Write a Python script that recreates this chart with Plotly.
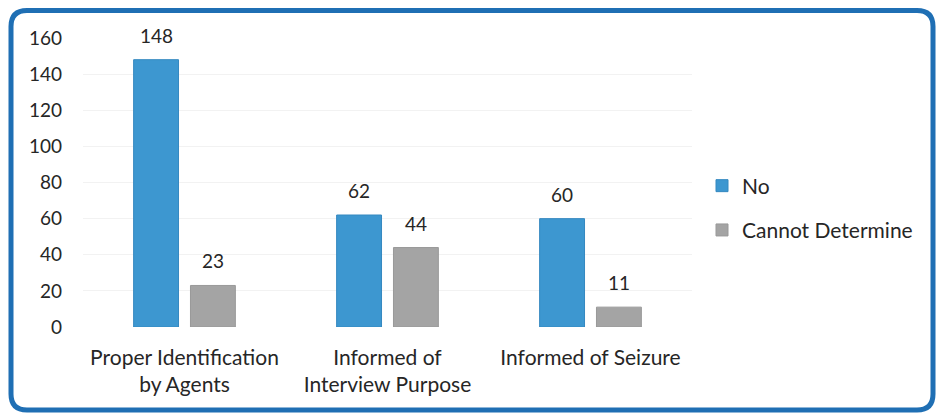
import plotly.graph_objects as go

categories = ["Proper Identification<br>by Agents", "Informed of<br>Interview Purpose", "Informed of Seizure"]
no_values = [148, 62, 60]
cannot_values = [23, 44, 11]
series_names = ["No", "Cannot Determine"]
y_ticks = [0, 20, 40, 60, 80, 100, 120, 140, 160]

W, H = 936, 413
ML, MR, MT, MB = 83, 244, 38, 86
PW, PH = W - ML - MR, H - MT - MB

def px2x(px):
    return (px - ML) / PW

def px2y(py):
    return (H - MB - py) / PH

FONT = "Lato, 'Open Sans', sans-serif"
TXT = "#262626"
BARGAP, GROUPGAP = 0.44, 0.21
slot_px = PW / len(categories) * (1 - BARGAP) / 2

fig = go.Figure()
fig.add_trace(go.Bar(
    x=categories, y=no_values, name=series_names[0], legendgroup="a",
    marker=dict(color="#3d97d0", line=dict(color="#3589c0", width=1)),
))
fig.add_trace(go.Bar(
    x=categories, y=cannot_values, name=series_names[1], legendgroup="b",
    marker=dict(color="#a4a4a4", line=dict(color="#999999", width=1)),
))

annotations = []
for vals, sh in ((no_values, -slot_px / 2), (cannot_values, slot_px / 2)):
    for c, v in zip(categories, vals):
        annotations.append(dict(
            x=c, y=v, xref="x", yref="y", text=str(v), showarrow=False,
            yanchor="bottom", yshift=11, xshift=sh,
            font=dict(size=19, color=TXT, family=FONT),
        ))

# rounded border
l, t, r, b, rad = 11, 10.5, 933, 410, 16
path = (
    f"M {px2x(l+rad)},{px2y(t)} L {px2x(r-rad)},{px2y(t)} "
    f"Q {px2x(r)},{px2y(t)} {px2x(r)},{px2y(t+rad)} "
    f"L {px2x(r)},{px2y(b-rad)} Q {px2x(r)},{px2y(b)} {px2x(r-rad)},{px2y(b)} "
    f"L {px2x(l+rad)},{px2y(b)} Q {px2x(l)},{px2y(b)} {px2x(l)},{px2y(b-rad)} "
    f"L {px2x(l)},{px2y(t+rad)} Q {px2x(l)},{px2y(t)} {px2x(l+rad)},{px2y(t)} Z"
)

fig.update_layout(
    width=W, height=H,
    margin=dict(l=ML, r=MR, t=MT, b=MB),
    paper_bgcolor="white", plot_bgcolor="white",
    barmode="group", bargap=BARGAP, bargroupgap=GROUPGAP,
    font=dict(family=FONT, size=19, color=TXT),
    annotations=annotations,
    shapes=[dict(type="path", xref="paper", yref="paper", path=path,
                 line=dict(color="#1f6fb4", width=5), layer="above")],
    legend=dict(
        x=px2x(702), y=px2y(208), xanchor="left", yanchor="middle",
        font=dict(size=21, color=TXT, family=FONT),
        tracegroupgap=14, itemwidth=30, bgcolor="rgba(0,0,0,0)",
    ),
    xaxis=dict(showline=False, ticks="", ticklabelstandoff=16,
               tickfont=dict(size=21, color=TXT)),
    yaxis=dict(range=[0, 160], tickvals=y_ticks, showgrid=True,
               gridcolor="#f2f2f2", gridwidth=1, zeroline=False, showline=False,
               ticks="", ticklabelstandoff=20, tickfont=dict(size=19, color=TXT)),
)

fig.write_html(
    "out.html",
    config={"displayModeBar": False},
    post_script="document.body.style.margin='0';document.body.style.overflow='hidden';",
)
